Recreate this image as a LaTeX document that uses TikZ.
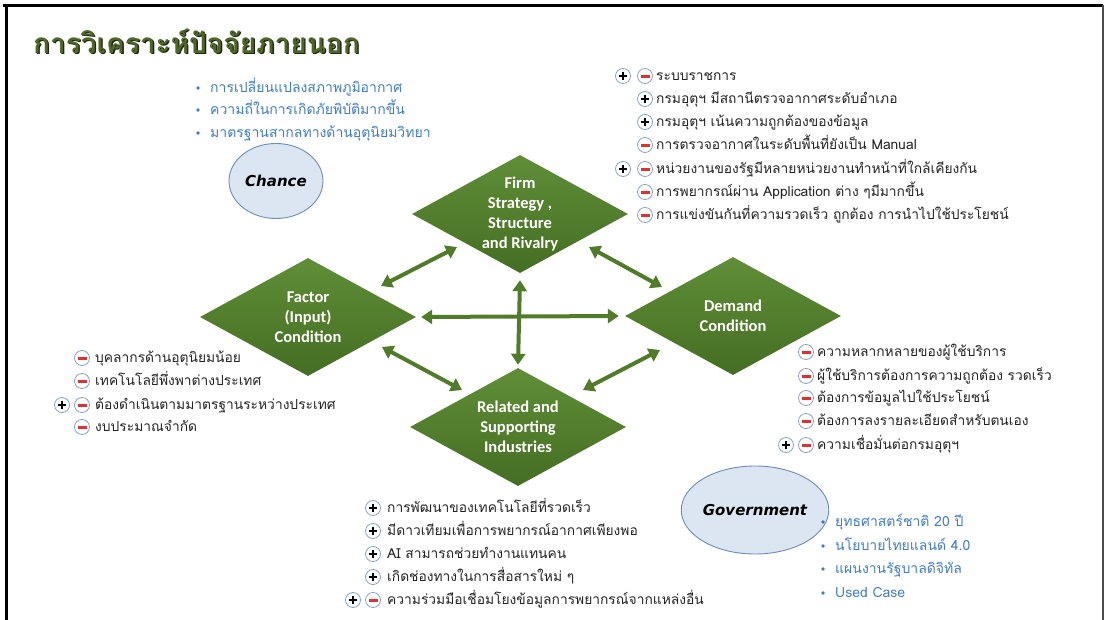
\documentclass[tikz,border=0pt]{standalone}
\usepackage{fontspec}
\setmainfont{Carlito}
\newfontfamily\thaifont[Script=Thai]{Loma}
\newfontfamily\ovalfont{DejaVu Sans}
\usetikzlibrary{shapes.geometric,arrows.meta,calc}

\definecolor{leaf}{RGB}{96,142,56}
\definecolor{leafdark}{RGB}{68,110,34}
\definecolor{arrowgreen}{RGB}{80,124,42}
\definecolor{skyfill}{RGB}{220,230,242}
\definecolor{skyline}{RGB}{110,140,180}
\definecolor{iconline}{RGB}{135,160,198}
\definecolor{bulletblue}{RGB}{64,124,198}
\definecolor{minusred}{RGB}{222,50,50}
\definecolor{titlegreen}{RGB}{80,102,40}
\definecolor{titleshade}{RGB}{28,38,18}
\definecolor{itemtext}{RGB}{35,35,35}

\begin{document}
\begin{tikzpicture}[x=1pt,y=-1pt,
  force/.style={diamond, inner sep=0, minimum width=216, minimum height=118,
    top color=leaf, bottom color=leafdark, draw=none},
  forcetext/.style={text=white, align=center, inner sep=0,
    font=\fontsize{16.5}{20}\selectfont\bfseries},
  oval/.style={ellipse, draw=skyline, line width=0.9, fill=skyfill, inner sep=0,
    font=\ovalfont\bfseries\itshape\fontsize{15}{18}\selectfont, text=black},
  link/.style={draw=arrowgreen, line width=4,
    {Triangle[length=11,width=14]}-{Triangle[length=11,width=14]}},
  icon/.style={circle, draw=iconline, fill=white, line width=0.8,
    minimum size=15, inner sep=0},
  pico/.style={icon, path picture={\draw[line width=1.3, black]
      ($(path picture bounding box.center)+(-4,0)$) -- ++(8,0)
      ($(path picture bounding box.center)+(0,-4)$) -- ++(0,8);}},
  mico/.style={icon, path picture={\draw[line width=2.3, minusred]
      ($(path picture bounding box.center)+(-4.5,0.5)$) -- ++(9,0);}},
  item/.style={anchor=base west, inner sep=0, text=itemtext, yshift=-4.5pt,
    font=\thaifont\fontsize{13.8}{15}\selectfont},
  blueitem/.style={anchor=base west, inner sep=0, text=bulletblue, yshift=-4.5pt,
    font=\thaifont\fontsize{14}{15}\selectfont},
  dot/.style={circle, fill=bulletblue, inner sep=0, minimum size=3.8},
]
\useasboundingbox (0,0) rectangle (1105,620);

% slide frame
\draw[line width=3, black] (3,5.5) -- (1103,5.5);
\draw[line width=3.2, black] (6.5,4) -- (6.5,620);
\draw[line width=1.3, black!70] (1103,5) -- (1103,620);

% heading
\node[anchor=west, inner sep=0, font=\thaifont\bfseries\fontsize{28}{32}\selectfont] (title) at (33,42)
  {\makebox[0pt][l]{\hspace{1.3pt}\raisebox{-1.3pt}{\color{titleshade}การวิเคราะห์ปัจจัยภายนอก}}\color{titlegreen}การวิเคราะห์ปัจจัยภายนอก};

% the four forces
\node[force, label={[forcetext]center:{Firm\\Strategy ,\\Structure\\and Rivalry}}] (firm) at (520,214) {};
\node[force, label={[forcetext]center:{Factor\\(Input)\\Condition}}] (factor) at (308,317) {};
\node[force, label={[forcetext]center:{Demand\\Condition}}] (demand) at (733,316) {};
\node[force, label={[forcetext]center:{Related and\\Supporting\\Industries}}] (related) at (518,427) {};

% two-way links between the forces
\draw[link] ($(factor)+(73,-31)$) -- ($(firm)+(-63,33)$);
\draw[link] ($(firm)+(69,33)$) -- ($(demand)+(-71,-29)$);
\draw[link] ($(factor.east)+(5,0)$) -- ($(demand.west)+(-6,0)$);
\draw[link] ($(firm.south)+(0,7)$) -- ($(related.north)+(0,-3)$);
\draw[link] ($(factor)+(74,30)$) -- ($(related)+(-56,-37)$);
\draw[link] ($(demand)+(-73,34)$) -- ($(related)+(65,-37)$);

% chance
\node[oval, minimum width=94, minimum height=75] (chance) at (276,181) {Chance};
\foreach \nm/\y/\t in {c1/88/{การเปลี่ยนแปลงสภาพภูมิอากาศ},
                       c2/110/{ความถี่ในการเกิดภัยพิบัติมากขึ้น},
                       c3/133/{มาตรฐานสากลทางด้านอุตุนิยมวิทยา}}{
  \node[dot] (\nm d) at (198,\y) {};
  \node[blueitem] (\nm) at (210,\y) {\t};
}

% government
\node[oval, minimum width=124, minimum height=88] (gov) at (755,510) {Government};
\foreach \nm/\y/\t in {g1/522/{ยุทธศาสตร์ชาติ 20 ปี},
                       g2/546/{นโยบายไทยแลนด์ 4.0},
                       g3/569/{แผนงานรัฐบาลดิจิทัล},
                       g4/593/{Used Case}}{
  \node[dot] (\nm d) at (823,\y) {};
  \node[blueitem] (\nm) at (835,\y) {\t};
}

% firm strategy notes
\foreach \nm/\y/\ic/\t in {f1/76/mico/{ระบบราชการ},
                           f2/99/pico/{กรมอุตุฯ มีสถานีตรวจอากาศระดับอำเภอ},
                           f3/122/pico/{กรมอุตุฯ เน้นความถูกต้องของข้อมูล},
                           f4/145/mico/{การตรวจอากาศในระดับพื้นที่ยังเป็น Manual},
                           f5/169/mico/{หน่วยงานของรัฐมีหลายหน่วยงานทำหน้าที่ใกล้เคียงกัน},
                           f6/192/mico/{การพยากรณ์ผ่าน Application ต่าง ๆมีมากขึ้น},
                           f7/215/mico/{การแข่งขันกันที่ความรวดเร็ว ถูกต้อง การนำไปใช้ประโยชน์}}{
  \node[\ic] (\nm i) at (645,\y) {};
  \node[item] (\nm) at (656,\y) {\t};
}
\node[pico] (f1x) at (623,76) {};
\node[pico] (f5x) at (623,169) {};

% factor condition notes
\foreach \nm/\y/\ic/\t in {a1/358/mico/{บุคลากรด้านอุตุนิยมน้อย},
                           a2/381/mico/{เทคโนโลยีพึ่งพาต่างประเทศ},
                           a3/405/mico/{ต้องดำเนินตามมาตรฐานระหว่างประเทศ},
                           a4/427/mico/{งบประมาณจำกัด}}{
  \node[\ic] (\nm i) at (82,\y) {};
  \node[item] (\nm) at (95,\y) {\t};
}
\node[pico] (a3x) at (62,405) {};

% demand condition notes
\foreach \nm/\y/\ic/\t in {d1/352/mico/{ความหลากหลายของผู้ใช้บริการ},
                           d2/376/mico/{ผู้ใช้บริการต้องการความถูกต้อง รวดเร็ว},
                           d3/398/mico/{ต้องการข้อมูลไปใช้ประโยชน์},
                           d4/421/mico/{ต้องการลงรายละเอียดสำหรับตนเอง},
                           d5/445/mico/{ความเชื่อมั่นต่อกรมอุตุฯ}}{
  \node[\ic] (\nm i) at (806,\y) {};
  \node[item] (\nm) at (817,\y) {\t};
}
\node[pico] (d5x) at (786,445) {};

% related industries notes
\foreach \nm/\y/\ic/\t in {r1/508/pico/{การพัฒนาของเทคโนโลยีที่รวดเร็ว},
                           r2/531/pico/{มีดาวเทียมเพื่อการพยากรณ์อากาศเพียงพอ},
                           r3/554/pico/{AI สามารถช่วยทำงานแทนคน},
                           r4/577/pico/{เกิดช่องทางในการสื่อสารใหม่ ๆ},
                           r5/600/mico/{ความร่วมมือเชื่อมโยงข้อมูลการพยากรณ์จากแหล่งอื่น}}{
  \node[\ic] (\nm i) at (373,\y) {};
  \node[item] (\nm) at (387,\y) {\t};
}
\node[pico] (r5x) at (353,600) {};
\end{tikzpicture}
\end{document}
